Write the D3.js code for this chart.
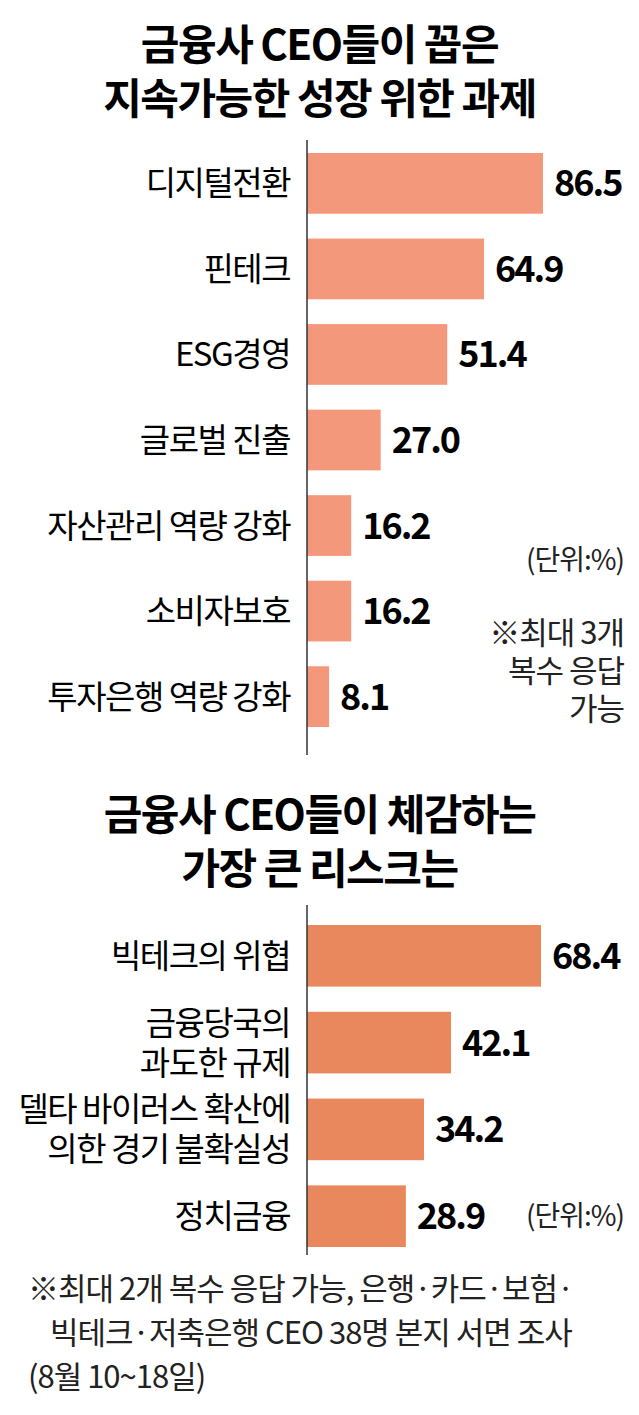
<!DOCTYPE html>
<html><head><meta charset="utf-8">
<script src="https://cdn.jsdelivr.net/npm/d3@7"></script>
<style>body{margin:0;background:#fff}</style>
</head><body>
<script>
const taskLabels = [["디지털전환"],["핀테크"],["ESG경영"],["글로벌 진출"],["자산관리 역량 강화"],["소비자보호"],["투자은행 역량 강화"]]
const taskValues = [86.5, 64.9, 51.4, 27.0, 16.2, 16.2, 8.1]
const riskLabels = [["빅테크의 위협"],["금융당국의","과도한 규제"],["델타 바이러스 확산에","의한 경기 불확실성"],["정치금융"]]
const riskValues = [68.4, 42.1, 34.2, 28.9]

const W = 639, H = 1415
const font = "'Noto Sans CJK KR', sans-serif"
const svg = d3.select("body").append("svg").attr("width", W).attr("height", H)
  .style("font-family", font)

function title(lines, y0) {
  lines.forEach((t, i) => svg.append("text").attr("x", W / 2).attr("y", y0 + i * 54)
    .attr("text-anchor", "middle").attr("font-size", 42).attr("font-weight", 700)
    .attr("letter-spacing", -1.5).text(t))
}

function chart(labels, values, yTop, yBot, maxPx, color, axisTop, axisBot) {
  const x = d3.scaleLinear().domain([0, d3.max(values)]).range([307, 307 + maxPx])
  const y = d3.scaleBand().domain(d3.range(values.length)).range([yTop, yBot]).paddingInner(0.29)
  svg.append("g").selectAll("rect").data(values).join("rect")
    .attr("x", x(0)).attr("y", (d, i) => y(i)).attr("height", y.bandwidth())
    .attr("width", d => x(d) - x(0)).attr("fill", color)
  svg.append("line").attr("x1", 307).attr("x2", 307).attr("y1", axisTop).attr("y2", axisBot)
    .attr("stroke", "#333").attr("stroke-width", 1.5)
  svg.append("g").selectAll("text").data(values).join("text")
    .attr("x", d => x(d) + 11).attr("y", (d, i) => y(i) + y.bandwidth() / 2 + 13)
    .attr("font-size", 36).attr("font-weight", 700).attr("letter-spacing", -2)
    .text(d => d.toFixed(1))
  labels.forEach((ls, i) => {
    const cy = y(i) + y.bandwidth() / 2
    ls.forEach((l, j) => svg.append("text").attr("x", 290)
      .attr("y", cy + 12 + (j - (ls.length - 1) / 2) * 40)
      .attr("text-anchor", "end").attr("font-size", 33).attr("letter-spacing", -1.5).text(l))
  })
}

function note(t, x, y, size, anchor) {
  svg.append("text").attr("x", x).attr("y", y).attr("font-size", size)
    .attr("text-anchor", anchor || "start").attr("fill", "#222").attr("letter-spacing", -1).text(t)
}

title(["금융사 CEO들이 꼽은", "지속가능한 성장 위한 과제"], 60)
chart(taskLabels, taskValues, 153, 727, 236, "#f4987b", 140, 755)
note("(단위:%)", 624, 570, 28, "end")
note("※최대 3개", 624, 644, 31, "end")
note("복수 응답", 624, 682, 31, "end")
note("가능", 624, 720, 31, "end")

title(["금융사 CEO들이 체감하는", "가장 큰 리스크는"], 830)
chart(riskLabels, riskValues, 925, 1247, 234, "#e9885d", 905, 1255)
note("(단위:%)", 624, 1226, 28, "end")
note("※최대 2개 복수 응답 가능, 은행·카드·보험·", 28, 1300, 31)
note("빅테크·저축은행 CEO 38명 본지 서면 조사", 50, 1344, 31)
note("(8월 10~18일)", 28, 1388, 31)
</script>
</body></html>
